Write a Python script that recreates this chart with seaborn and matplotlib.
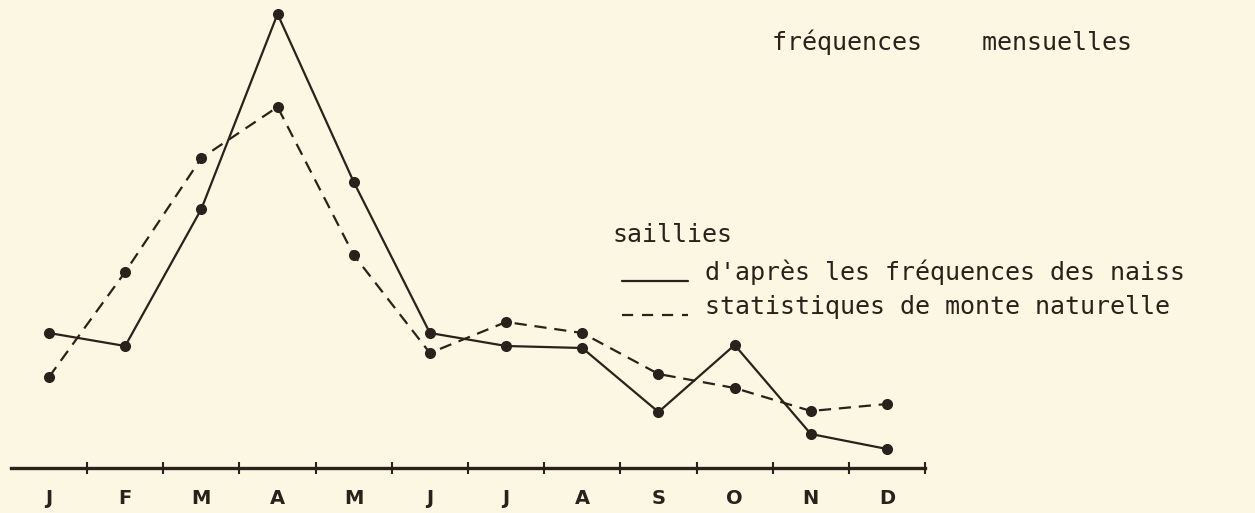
# monthly frequencies of mating (saillies), two estimates, redrawn from a scan
import numpy as np
import pandas as pd
import matplotlib
matplotlib.use('Agg')
import matplotlib.pyplot as plt
import seaborn as sns
from matplotlib.lines import Line2D

# values (height above the month axis, arbitrary units)
mois = ['J', 'F', 'M', 'A', 'M', 'J', 'J', 'A', 'S', 'O', 'N', 'D']
naissances = [135, 122, 259, 454, 286, 135, 122, 120, 56, 123, 34, 19]
monte = [91, 196, 310, 361, 213, 115, 146, 135, 94, 80, 57, 64]
legende = ["d'après les fréquences des naiss", 'statistiques de monte naturelle']
titre = 'fréquences    mensuelles'
titre_legende = 'saillies'

# colours
papier = '#fbf7e3'
encre = '#2b211c'
mono = ['DejaVu Sans Mono']

sns.set_theme(style='white')
plt.rcParams['font.family'] = ['DejaVu Sans', 'DejaVu Sans Mono']

df = pd.DataFrame({
    'rang': list(range(len(mois))) * 2,
    'valeur': naissances + monte,
    'serie': [legende[0]] * len(mois) + [legende[1]] * len(mois),
})

W, H = 1255, 513
fig = plt.figure(figsize=(W / 100, H / 100), dpi=100)
fig.patch.set_facecolor(papier)
ax = fig.add_axes([0, 0, 1, 1])
ax.set_facecolor(papier)

sns.lineplot(data=df, x='rang', y='valeur', style='serie',
             dashes={legende[0]: '', legende[1]: (5.5, 3.5)},
             markers={legende[0]: 'o', legende[1]: 'o'},
             color=encre, linewidth=1.6, markersize=8, markeredgewidth=0,
             legend=False, ax=ax)

# layout of the axis inside the page
ax.set_xlim(-0.643, 15.83)
ax.set_ylim(-45, 468)
for s in ['top', 'right', 'left']:
    ax.spines[s].set_visible(False)
ax.spines['bottom'].set_position(('data', 0))
ax.spines['bottom'].set_bounds(-0.5, 11.5)
ax.spines['bottom'].set_linewidth(2.4)
ax.spines['bottom'].set_color(encre)

# ticks at month boundaries, labels at month centres
ax.set_xticks(np.arange(0.5, len(mois), 1.0))
ax.set_xticklabels([])
ax.set_xticks(range(len(mois)), minor=True)
ax.set_xticklabels(mois, minor=True)
ax.tick_params(axis='x', which='major', direction='inout', length=9, width=1.5,
               color=encre, bottom=True)
ax.tick_params(axis='x', which='minor', length=0, pad=15, labelsize=14,
               labelcolor=encre, bottom=True)
plt.setp(ax.get_xticklabels(minor=True), fontweight='bold')
ax.set_yticks([])
ax.set_xlabel('')
ax.set_ylabel('')


def px(x, y):
    return x / W, 1 - y / H


# title and typed legend
fig.text(*px(772, 50), titre, family=mono, fontsize=18, color=encre, va='baseline')
fig.text(*px(612, 242), titre_legende, family=mono, fontsize=18, color=encre, va='baseline')
fig.text(*px(705, 280), legende[0], family=mono, fontsize=18, color=encre, va='baseline')
fig.text(*px(705, 314), legende[1], family=mono, fontsize=18, color=encre, va='baseline')
x0, y0 = px(622, 281)
x1, y1 = px(688, 315)
fig.add_artist(Line2D([x0, x1], [y0, y0], color=encre, linewidth=1.6))
fig.add_artist(Line2D([x0, x1], [y1, y1], color=encre, linewidth=1.6, dashes=(5, 4)))

fig.savefig('out.png', dpi=100, facecolor=papier)
